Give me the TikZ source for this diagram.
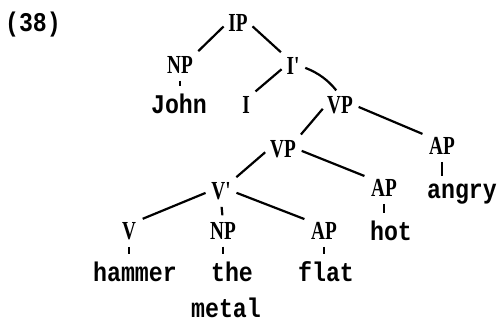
\documentclass[tikz,border=0pt]{standalone}
\usepackage{fontspec}
\usepackage{graphicx}
\usetikzlibrary{positioning}

\newfontfamily\catfamily{Liberation Serif}
\newfontfamily\wordfamily{Liberation Mono}
\newcommand{\catlabel}[1]{\scalebox{0.74}[1]{\catfamily\fontsize{26}{26}\selectfont\bfseries #1}}
\newcommand{\wordlabel}[1]{\scalebox{0.86}[1]{\wordfamily\fontsize{27}{27}\selectfont\bfseries #1}}

\begin{document}
\begin{tikzpicture}[
  x=1pt, y=-1pt,
  cat/.style={inner sep=1pt},
  word/.style={inner sep=1pt, anchor=base},
  branch/.style={line width=2.2pt, shorten <=5pt, shorten >=6pt},
  tick/.style={line width=2.2pt, shorten <=6pt, shorten >=6pt}
]
\useasboundingbox (0,0) rectangle (500,324);

\node[word] (num) at (33,31) {\wordlabel{(38)}};

% category labels
\node[cat] (ip) at (238,23) {\catlabel{IP}};
\node[cat] (np) at (180,65) {\catlabel{NP}};
\node[cat] (ibar) at (293,66) {\catlabel{I\textquotesingle}};
\node[cat] (i) at (246,105) {\catlabel{I}};
\node[cat] (vpa) at (340,105) {\catlabel{VP}};
\node[cat] (vpb) at (283,149) {\catlabel{VP}};
\node[cat] (apa) at (442,146) {\catlabel{AP}};
\node[cat] (vbar) at (221,191) {\catlabel{V\textquotesingle}};
\node[cat] (aph) at (384,188) {\catlabel{AP}};
\node[cat] (v) at (129,231) {\catlabel{V}};
\node[cat] (npb) at (223,231) {\catlabel{NP}};
\node[cat] (apf) at (324,231) {\catlabel{AP}};

% words
\node[word] (john) at (179,113) {\wordlabel{John}};
\node[word] (angry) at (462,198) {\wordlabel{angry}};
\node[word] (hot) at (391,240) {\wordlabel{hot}};
\node[word] (hammer) at (135,281) {\wordlabel{hammer}};
\node[word] (the) at (232,281) {\wordlabel{the}};
\node[word] (flat) at (326,281) {\wordlabel{flat}};
\node[word] (metal) at (226,317) {\wordlabel{metal}};

\draw[branch] (ip.west) -- (np.north east);
\draw[branch] (ip.east) -- (ibar.north west);
\draw[branch] (ibar.west) -- (i.north east);
\draw[branch] (ibar.east) to[bend left=15] (vpa.north);
\draw[branch] (vpa.west) -- (vpb.north east);
\draw[branch] (vpa.east) -- (apa.north west);
\draw[branch] (vpb.west) -- (vbar.north east);
\draw[branch] (vpb.east) -- (aph.north west);
\draw[branch] (vbar.west) -- (v.north east);
\draw[tick] (vbar.south) -- (npb.north);
\draw[branch] (vbar.east) -- (apf.north west);

% short ticks down to the words
\draw[tick] (np.south) -- (np.south |- john.north);
\draw[tick] (v.south) -- (v.south |- hammer.north);
\draw[tick] (npb.south) -- (npb.south |- the.north);
\draw[tick] (apf.south) -- (apf.south |- flat.north);
\draw[tick] (aph.south) -- (aph.south |- hot.north);
\draw[tick] (apa.south) -- (apa.south |- angry.north);
\end{tikzpicture}
\end{document}
